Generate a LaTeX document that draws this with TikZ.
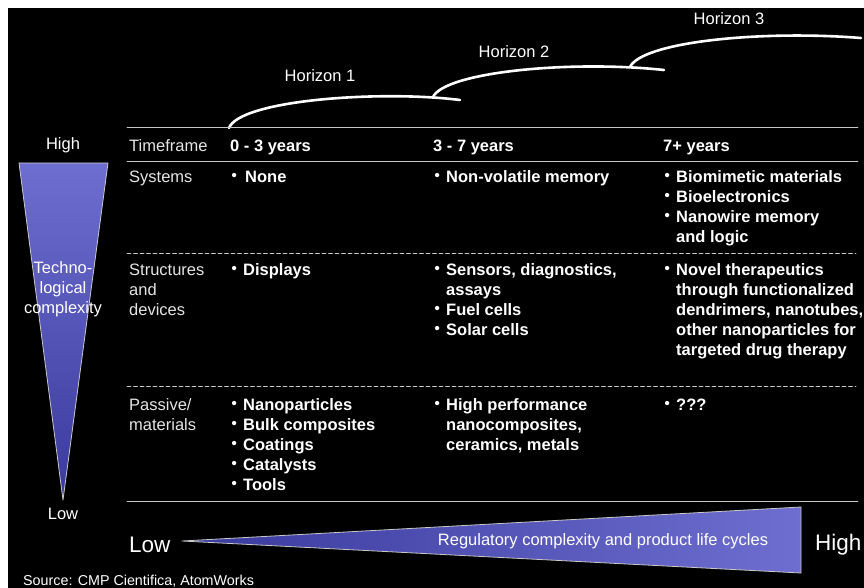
\documentclass[tikz,border=0pt]{standalone}
\usepackage{fontspec}
\setmainfont{Liberation Sans}
\definecolor{wedgelight}{HTML}{6E6ED0}
\definecolor{wedgedark}{HTML}{3A3A9E}
\definecolor{rulegray}{HTML}{C8C8C8}
\newcommand\bul{\strut\makebox[13pt][l]{\hspace{1.5pt}\raisebox{1.6pt}{\fontsize{15}{15}\selectfont •}}}
\newcommand\indt{\strut\hspace*{13pt}}
\begin{document}
\begin{tikzpicture}[
		x=1pt,y=-1pt,
		line cap=round,
		line join=round,
		cell/.style={anchor=north west,inner sep=0pt,align=left,text=white,font=\fontsize{16.5}{20}\selectfont\bfseries},
		rowlabel/.style={anchor=north west,inner sep=0pt,align=left,text=white!90!black,font=\fontsize{16.5}{20}\selectfont},
		plain/.style={inner sep=0pt,align=center,text=white,font=\fontsize{16.5}{20}\selectfont},
		big/.style={inner sep=0pt,anchor=west,text=white,font=\fontsize{22.5}{24}\selectfont},
		hrule/.style={rulegray,line width=0.9pt},
		drule/.style={rulegray,line width=0.8pt,dash pattern=on 4pt off 2.5pt},
		horizon/.style={white,line width=2.6pt},
		wedge/.style={draw=rulegray,line width=0.8pt}
		]
		\useasboundingbox (0,0) rectangle (864,588);
		\fill[white] (0,0) rectangle (864,588);
		\fill[black] (8,8) rectangle (864,588);
		\draw[horizon] (229,128) .. controls (240,100) and (380,90) .. (460,100);
		\draw[horizon] (433,97) .. controls (445,72) and (570,60) .. (664,70);
		\draw[horizon] (630,67) .. controls (642,42) and (760,30) .. (861,38);
		\node[plain] (hz1) at (320,76) {Horizon 1};
		\node[plain] (hz2) at (514,52) {Horizon 2};
		\node[plain] (hz3) at (729,19) {Horizon 3};
		\draw[hrule] (127,127) -- (858,127);
		\draw[hrule] (127,161) -- (858,161);
		\draw[drule] (127,253) -- (856,253);
		\draw[drule] (127,386) -- (856,386);
		\draw[hrule] (127,501) -- (858,501);
		\shade[wedge,top color=wedgelight,bottom color=wedgedark] (19,163) -- (108,163) -- (63,500) -- cycle;
		\node[plain] (techhigh) at (63,145) {High};
		\node[plain] (techlow) at (63,514) {Low};
		\node[plain] (techlbl) at (63,289) {Techno-\\logical\\complexity};
		\node[rowlabel] (lbltime) at (129,137) {\strut Timeframe};
		\node[rowlabel] (lblsys) at (129,168) {\strut Systems};
		\node[rowlabel] (lblstruct) at (129,261) {\strut Structures\\and\\devices};
		\node[rowlabel] (lblpass) at (129,396) {\strut Passive/\\materials};
		\node[cell] (hdnear) at (230,137) {\strut 0 - 3 years};
		\node[cell] (hdmid) at (433,137) {\strut 3 - 7 years};
		\node[cell] (hdfar) at (663,137) {\strut 7+ years};
		\node[cell] (sysnear) at (230,168) {\bul\hspace{2pt}None};
		\node[cell] (sysmid) at (433,168) {\bul Non-volatile memory};
		\node[cell] (sysfar) at (663,168) {\bul Biomimetic materials\\\bul Bioelectronics\\\bul Nanowire memory\\\indt and logic};
		\node[cell] (structnear) at (230,261) {\bul Displays};
		\node[cell] (structmid) at (433,261) {\bul Sensors, diagnostics,\\\indt assays\\\bul Fuel cells\\\bul Solar cells};
		\node[cell] (structfar) at (663,261) {\bul Novel therapeutics\\\indt through functionalized\\\indt dendrimers, nanotubes,\\\indt other nanoparticles for\\\indt targeted drug therapy};
		\node[cell] (passnear) at (230,396) {\bul Nanoparticles\\\bul Bulk composites\\\bul Coatings\\\bul Catalysts\\\bul Tools};
		\node[cell] (passmid) at (433,396) {\bul High performance\\\indt nanocomposites,\\\indt ceramics, metals};
		\node[cell] (passfar) at (663,396) {\bul ???};
		\shade[wedge,left color=wedgedark,right color=wedgelight] (182,541) -- (801,507) -- (801,573) -- cycle;
		\node[plain] (reglbl) at (603,541) {Regulatory complexity and product life cycles};
		\node[big] (reglow) at (129,545) {Low};
		\node[big] (reghigh) at (815,545) {High};
		\node[inner sep=0pt,anchor=west,text=white,font=\fontsize{14.3}{16}\selectfont] (source) at (23,581) {Source: CMP Cientifica, AtomWorks};
		\end{tikzpicture}
\end{document}
